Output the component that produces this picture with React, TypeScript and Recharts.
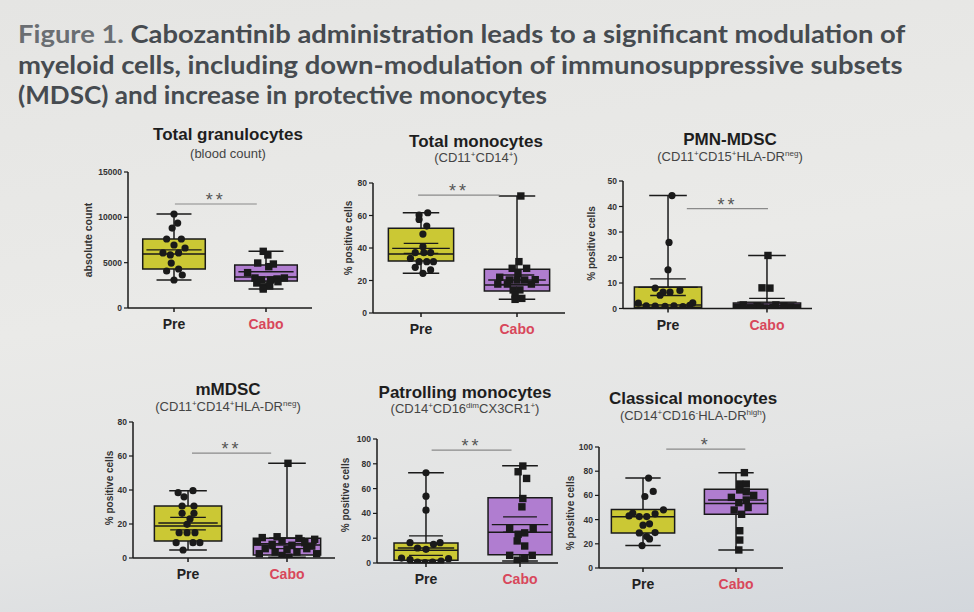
import React, { useLayoutEffect, useRef, useState } from 'react'
import { ComposedChart, Scatter, XAxis, YAxis, ReferenceArea, ReferenceLine } from 'recharts'

const groups = ['Pre', 'Cabo']

// points are [jitter off the category centre, value]
// box = [min, q1, median, q3, max], mean = [mean, lower cap, upper cap]
const granTicks = [0, 5000, 10000, 15000]
const granPre = [[0, 10370], [0.04, 9370], [-0.02, 8820], [-0.08, 7610], [0.08, 7610], [0, 6950], [0.12, 6620], [-0.12, 6070], [-0.04, 5850], [0.05, 6070], [-0.03, 4960], [-0.08, 4080], [0.05, 4300], [0.09, 3640], [0, 3090]]
const granPreBox = [3090, 4300, 5960, 7610, 10370]
const granPreMean = [6400, null, null]
const granCabo = [[-0.03, 6250], [0.02, 5850], [-0.09, 4960], [0.03, 4560], [0.08, 4850], [-0.2, 3900], [-0.12, 3310], [-0.05, 3090], [0.05, 3090], [0.12, 3200], [0.2, 3310], [-0.1, 2760], [-0.03, 2320], [0.04, 2430], [-0.03, 2090], [0.13, 2900]]
const granCaboBox = [2090, 2980, 3420, 4750, 6250]
const granCaboMean = [4000, null, null]

const monoTicks = [0, 20, 40, 60, 80]
const monoPre = [[0.07, 61.7], [-0.02, 60.3], [-0.02, 57.6], [0.06, 53.5], [0.02, 48.6], [0.02, 40.8], [-0.06, 37.1], [0.03, 37.1], [0.1, 37.1], [-0.11, 33.6], [-0.02, 31.6], [0.06, 31.6], [0.13, 31.6], [-0.06, 28.1], [0.1, 26.5], [0.02, 24.4]]
const monoPreBox = [24.4, 32, 36.3, 52.1, 61.7]
const monoPreMean = [39.8, 36.7, 42.9]
const monoCabo = [[0.04, 72], [0.02, 31.6], [-0.05, 27.5], [0.1, 27.5], [0.01, 24.4], [-0.18, 22], [-0.08, 20.3], [0, 20.3], [0.08, 20.3], [0.19, 20.5], [-0.2, 17.8], [-0.1, 17.8], [0.15, 17.8], [-0.04, 14.2], [0.03, 14.2], [-0.02, 11.1], [0.05, 9], [-0.02, 8.4]]
const monoCaboBox = [8.4, 13.5, 17.2, 26.9, 72]
const monoCaboMean = [20.3, 17.6, 23.4]

const pmnTicks = [0, 10, 20, 30, 40, 50]
const pmnPre = [[0.04, 44.3], [0.01, 25.9], [0, 15.2], [-0.13, 8], [-0.05, 6.4], [0.02, 6.4], [0.12, 7.1], [-0.3, 2.1], [0.25, 2.2], [-0.22, 1], [-0.13, 0.9], [-0.03, 0.8], [0.06, 1], [0.15, 0.7], [0.22, 1.2], [-0.08, 5.2]]
const pmnPreBox = [0.3, 0.5, 1.4, 8.4, 44.3]
const pmnPreMean = [8.3, 5.1, 11.6]
const pmnCabo = [[0.01, 20.8], [0.03, 8], [-0.05, 8.1], [-0.24, 1.4], [0.09, 1.4], [-0.1, 1], [0.17, 1], [-0.3, 0.5], [-0.17, 0.3], [-0.02, 0.2], [0.06, 0.4], [0.24, 0.6], [0.3, 0.3], [-0.07, 0.6]]
const pmnCaboBox = [0.1, 0.2, 0.6, 2.2, 20.8]
const pmnCaboMean = [2.5, 1.2, 4]

const mTicks = [0, 20, 40, 60, 80]
const mPre = [[-0.1, 38.4], [0.05, 39.6], [-0.04, 36], [-0.06, 30.6], [0.06, 30.6], [-0.06, 26.3], [0.06, 26.3], [-0.01, 19.8], [-0.09, 14.9], [-0.01, 14.9], [0.07, 14.9], [-0.12, 9], [0.05, 9], [0.12, 9], [-0.05, 4.7], [0.02, 23]]
const mPreBox = [4.7, 10, 18.8, 30.6, 39.6]
const mPreMean = [20.6, 16.5, 23.9]
const mCabo = [[0.01, 55.7], [-0.25, 12], [-0.1, 12.5], [0.12, 11.5], [0.28, 11], [-0.3, 9.5], [-0.05, 10], [0.18, 9], [-0.15, 8], [0.05, 7.5], [0.25, 7], [-0.22, 5.5], [0, 5], [0.2, 5.5], [-0.12, 3.5], [0.1, 3.5], [-0.28, 2.5], [0.3, 2.5], [-0.05, 1.5], [0.02, 0.5]]
const mCaboBox = [0.5, 1.8, 7.6, 11.6, 55.7]
const mCaboMean = [8.5, 5.5, 11.8]

const patTicks = [0, 20, 40, 60, 80, 100]
const patPre = [[0, 72.8], [0, 53.9], [0, 42.6], [-0.17, 16.4], [0.15, 16.4], [-0.09, 12.1], [0, 11], [0.08, 15.1], [-0.26, 4], [-0.17, 2.7], [-0.09, 0.8], [-0.01, 0.3], [0.07, 0.8], [0.16, 1.6], [0.24, 3.5]]
const patPreBox = [0.3, 2.2, 10.2, 16.2, 72.8]
const patPreMean = [12.1, 6.2, 21.8]
const patCabo = [[0.03, 78.2], [-0.02, 73.6], [0.07, 68.2], [0.03, 52], [0.02, 45.3], [-0.11, 27.8], [0.14, 27.8], [-0.02, 23.2], [0.05, 24.3], [-0.03, 17.8], [0.05, 13.7], [-0.11, 6.2], [0.13, 6.2], [-0.03, 2.2], [0.05, 3.5]]
const patCaboBox = [1.6, 6.7, 24.8, 52.6, 78.4]
const patCaboMean = [31, 24.8, 37.2]

const clasTicks = [0, 20, 40, 60, 80, 100]
const clasPre = [[0.06, 74.3], [0.02, 59.1], [0.11, 63.3], [-0.11, 45.3], [0.22, 48.1], [-0.04, 42.5], [0.04, 42.5], [0.13, 44.8], [0, 35.4], [0.07, 36.5], [-0.04, 29], [0.13, 29.3], [0.04, 26], [0.07, 24], [-0.01, 18.5], [-0.15, 43]]
const clasPreBox = [18.5, 29, 42.3, 48.3, 74.3]
const clasPreMean = [null, null, null]
const clasCabo = [[0.09, 78.8], [0.04, 69.4], [0.11, 69.4], [0.04, 64.5], [0.11, 63], [-0.05, 58.4], [0.19, 60], [0.03, 54], [0.11, 56.2], [-0.02, 47.9], [0.06, 44.4], [0.13, 50], [0.04, 30.8], [0.04, 23.1], [0.03, 14.9]]
const clasCaboBox = [14.9, 44.4, 53.4, 65, 78.8]
const clasCaboMean = [56.2, null, null]

const PRE_FILL = '#cbc834'
const CABO_FILL = '#b07dd0'
const INK = '#1a1a1a'
const FONT = '"Liberation Sans", Arial, sans-serif'

const YW = 50
const MT = 24
const MR = 6
const XH = 30

const sup = (t: string) => <sup style={{ fontSize: '0.62em', lineHeight: 0 }}>{t}</sup>

const panels = [
  {
    title: 'Total granulocytes', sub: <>(blood count)</>, cx: 228, ty: 135, sy: 154,
    yLabel: 'absolute count', labelSize: 10.5, labelX: 88, labelY: 240,
    axisX: 128, top: 172, bottom: 308, right: 312, xLo: 0.5, xHi: 2.5, yMax: 15000, ticks: granTicks,
    sets: [[granPre, granPreBox, granPreMean], [granCabo, granCaboBox, granCaboMean]],
    sig: [1.01, 1.9, 11470, '**'],
  },
  {
    title: 'Total monocytes', sub: <>(CD11{sup('+')}CD14{sup('+')})</>, cx: 476, ty: 142, sy: 158,
    yLabel: '% positive cells', labelSize: 10, labelX: 348, labelY: 238,
    axisX: 373, top: 183, bottom: 313, right: 565, xLo: 0.5, xHi: 2.5, yMax: 80, ticks: monoTicks,
    sets: [[monoPre, monoPreBox, monoPreMean], [monoCabo, monoCaboBox, monoCaboMean]],
    sig: [0.97, 1.82, 72.6, '**'],
  },
  {
    title: 'PMN-MDSC', sub: <>(CD11{sup('+')}CD15{sup('+')}HLA-DR{sup('neg')})</>, cx: 730, ty: 140, sy: 157,
    yLabel: '% positive cells', labelSize: 10, labelX: 591, labelY: 243,
    axisX: 623, top: 180.5, bottom: 308, right: 812, xLo: 0.545, xHi: 2.455, yMax: 50, ticks: pmnTicks,
    sets: [[pmnPre, pmnPreBox, pmnPreMean], [pmnCabo, pmnCaboBox, pmnCaboMean]],
    sig: [1.19, 2.01, 39.2, '**'],
  },
  {
    title: 'mMDSC', sub: <>(CD11{sup('+')}CD14{sup('+')}HLA-DR{sup('neg')})</>, cx: 228, ty: 390, sy: 407,
    yLabel: '% positive cells', labelSize: 10, labelX: 109, labelY: 488,
    axisX: 133, top: 422, bottom: 558, right: 335, xLo: 0.444, xHi: 2.485, yMax: 80, ticks: mTicks,
    sets: [[mPre, mPreBox, mPreMean], [mCabo, mCaboBox, mCaboMean]],
    sig: [1.04, 1.84, 61.7, '**'],
  },
  {
    title: 'Patrolling monocytes', sub: <>(CD14{sup('+')}CD16{sup('dim')}CX3CR1{sup('+')})</>, cx: 465, ty: 393, sy: 409,
    yLabel: '% positive cells', labelSize: 10, labelX: 345, labelY: 495,
    axisX: 377, top: 439, bottom: 563, right: 558, xLo: 0.479, xHi: 2.404, yMax: 100, ticks: patTicks,
    sets: [[patPre, patPreBox, patPreMean], [patCabo, patCaboBox, patCaboMean]],
    sig: [1.06, 1.91, 91.1, '**'],
  },
  {
    title: 'Classical monocytes', sub: <>(CD14{sup('+')}CD16{sup('-')}HLA-DR{sup('high')})</>, cx: 693, ty: 399, sy: 416,
    yLabel: '% positive cells', labelSize: 10, labelX: 570, labelY: 513,
    axisX: 599, top: 447, bottom: 568, right: 783, xLo: 0.527, xHi: 2.505, yMax: 100, ticks: clasTicks,
    sets: [[clasPre, clasPreBox, clasPreMean], [clasCabo, clasCaboBox, clasCaboMean]],
    sig: [1.25, 2.1, 98.3, '*'],
  },
]

const CatTick = (props: any) => {
  const { x, y, payload } = props
  const name = groups[payload.value - 1]
  return (
    <text x={x} y={y + 15} textAnchor="middle" fontSize={14} fontWeight="bold" fontFamily={FONT}
      fill={name === 'Pre' ? '#222' : '#d8475b'}>{name}</text>
  )
}

function boxElements(cat: number, box: number[], mean: (number | null)[], fill: string, key: string) {
  const [min, q1, med, q3, max] = box
  const els: any[] = [
    <ReferenceArea key={key + 'b'} x1={cat - 0.34} x2={cat + 0.34} y1={q1} y2={q3} fill={fill} fillOpacity={1} stroke={INK} strokeWidth={1.5} ifOverflow="visible" />,
    <ReferenceLine key={key + 'wt'} segment={[{ x: cat, y: q3 }, { x: cat, y: max }]} stroke={INK} strokeWidth={1.5} ifOverflow="visible" />,
    <ReferenceLine key={key + 'wb'} segment={[{ x: cat, y: min }, { x: cat, y: q1 }]} stroke={INK} strokeWidth={1.5} ifOverflow="visible" />,
    <ReferenceLine key={key + 'cmax'} segment={[{ x: cat - 0.19, y: max }, { x: cat + 0.19, y: max }]} stroke={INK} strokeWidth={1.5} ifOverflow="visible" />,
    <ReferenceLine key={key + 'cmin'} segment={[{ x: cat - 0.19, y: min }, { x: cat + 0.19, y: min }]} stroke={INK} strokeWidth={1.5} ifOverflow="visible" />,
    <ReferenceLine key={key + 'med'} segment={[{ x: cat - 0.34, y: med }, { x: cat + 0.34, y: med }]} stroke={INK} strokeWidth={1.5} ifOverflow="visible" />,
  ]
  const [m, lo, hi] = mean
  if (m != null) {
    els.push(<ReferenceLine key={key + 'mean'} segment={[{ x: cat - 0.3, y: m }, { x: cat + 0.3, y: m }]} stroke={INK} strokeWidth={1.3} ifOverflow="visible" />)
  }
  if (lo != null && hi != null) {
    els.push(<ReferenceLine key={key + 'lo'} segment={[{ x: cat - 0.18, y: lo }, { x: cat + 0.18, y: lo }]} stroke={INK} strokeWidth={1.3} ifOverflow="visible" />)
    els.push(<ReferenceLine key={key + 'hi'} segment={[{ x: cat - 0.18, y: hi }, { x: cat + 0.18, y: hi }]} stroke={INK} strokeWidth={1.3} ifOverflow="visible" />)
  }
  return els
}

const dot = (p: any) => <circle cx={p.cx} cy={p.cy} r={3.6} fill={INK} />
const square = (p: any) => <rect x={p.cx - 3.7} y={p.cy - 3.7} width={7.4} height={7.4} fill={INK} />

function Panel({ cfg }: { cfg: any }) {
  const plotW = cfg.right - cfg.axisX
  const plotH = cfg.bottom - cfg.top
  const left = cfg.axisX - YW
  const top = cfg.top - MT
  const width = YW + plotW + MR
  const height = MT + plotH + XH
  const [sx1, sx2, sy, stxt] = cfg.sig
  const preData = cfg.sets[0][0].map(([d, v]: number[]) => ({ x: 1 + d, y: v }))
  const caboData = cfg.sets[1][0].map(([d, v]: number[]) => ({ x: 2 + d, y: v }))

  return (
    <>
      <div style={{ position: 'absolute', left: cfg.cx - 150, top: cfg.ty - 11, width: 300, textAlign: 'center', fontFamily: FONT, fontWeight: 'bold', fontSize: 17, lineHeight: '22px', color: '#1e1e1e' }}>
        {cfg.title}
      </div>
      <div style={{ position: 'absolute', left: cfg.cx - 150, top: cfg.sy - 9, width: 300, textAlign: 'center', fontFamily: FONT, fontSize: 13, lineHeight: '18px', color: '#444' }}>
        {cfg.sub}
      </div>
      <div style={{ position: 'absolute', left, top }}>
        <ComposedChart width={width} height={height} margin={{ top: MT, right: MR, left: 0, bottom: 0 }}>
          <XAxis type="number" dataKey="x" domain={[cfg.xLo, cfg.xHi]} ticks={[1, 2]} allowDataOverflow
            height={XH} tick={<CatTick />} tickSize={4} tickMargin={2}
            axisLine={{ stroke: INK, strokeWidth: 1.5 }} tickLine={{ stroke: INK, strokeWidth: 1.5 }} />
          <YAxis type="number" dataKey="y" domain={[0, cfg.yMax]} ticks={cfg.ticks} allowDataOverflow width={YW}
            tickSize={4} tickMargin={2}
            tick={{ fontSize: 8.5, fontWeight: 'bold', fill: '#333', fontFamily: FONT }}
            axisLine={{ stroke: INK, strokeWidth: 1.5 }} tickLine={{ stroke: INK, strokeWidth: 1.2 }}
            label={() => (
              <text transform={`translate(${cfg.labelX - left}, ${cfg.labelY - top}) rotate(-90)`} textAnchor="middle"
                dominantBaseline="central" fontSize={cfg.labelSize} fontWeight="bold" fontFamily={FONT} fill="#333">{cfg.yLabel}</text>
            )} />
          {boxElements(1, cfg.sets[0][1], cfg.sets[0][2], PRE_FILL, 'pre')}
          {boxElements(2, cfg.sets[1][1], cfg.sets[1][2], CABO_FILL, 'cabo')}
          <ReferenceLine segment={[{ x: sx1, y: sy }, { x: sx2, y: sy }]} stroke="#8a8a8a" strokeWidth={1.2} ifOverflow="visible"
            label={{ value: stxt, position: 'top', offset: -2, fill: '#555', fontSize: 18, letterSpacing: 3, fontFamily: FONT }} />
          <Scatter data={preData} shape={dot} isAnimationActive={false} />
          <Scatter data={caboData} shape={square} isAnimationActive={false} />
        </ComposedChart>
      </div>
    </>
  )
}

const titleLines = [
  ['Figure 1. ', 'Cabozantinib administration leads to a significant modulation of'],
  ['', 'myeloid cells, including down-modulation of immunosuppressive subsets'],
  ['', '(MDSC) and increase in protective monocytes'],
]
const titleWidths = [887, 884, 529]
const titleBase = [43, 73.5, 104]

function TitleLine({ parts, width, base }: { parts: string[]; width: number; base: number }) {
  const ref = useRef<HTMLDivElement>(null)
  const [sx, setSx] = useState(1)
  useLayoutEffect(() => {
    const fit = () => { if (ref.current) setSx(width / ref.current.offsetWidth) }
    fit()
    if ((document as any).fonts) (document as any).fonts.ready.then(fit)
  }, [width])
  return (
    <div ref={ref} style={{ position: 'absolute', left: 18, top: base - 24.7, whiteSpace: 'nowrap', fontFamily: 'Lato, "Open Sans", sans-serif',
      fontWeight: 'bold', fontSize: 25, lineHeight: '30px', color: '#464b50', transform: `scaleX(${sx})`, transformOrigin: 'left center' }}>
      {parts[0] && <span style={{ color: '#6a6e72' }}>{parts[0]}</span>}{parts[1]}
    </div>
  )
}

export default function App() {
  return (
    <div style={{ position: 'fixed', left: 0, top: 0, width: 974, height: 612, overflow: 'hidden',
      background: 'linear-gradient(172deg, #e5e5e3 0%, #eaeae8 45%, #e3e4e4 75%, #d3d7dc 100%)' }}>
      {titleLines.map((t, i) => <TitleLine key={i} parts={t} width={titleWidths[i]} base={titleBase[i]} />)}
      {panels.map((p, i) => <Panel key={i} cfg={p} />)}
    </div>
  )
}
